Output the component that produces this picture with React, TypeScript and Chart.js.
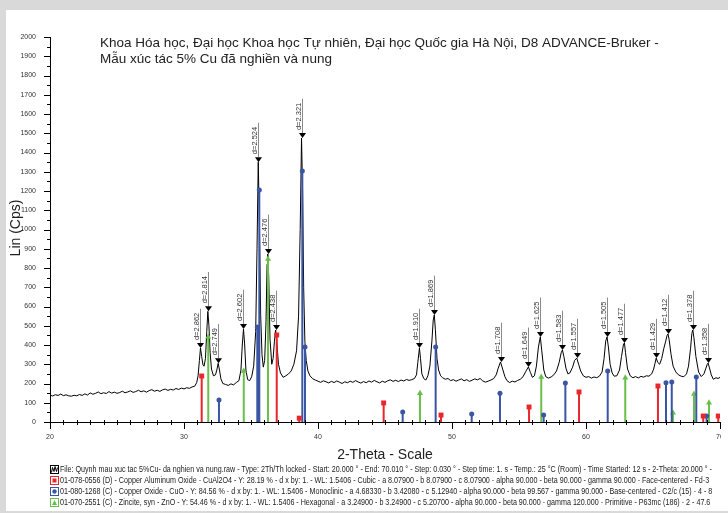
import React, { useEffect, useRef } from 'react';
import { Chart, registerables } from 'chart.js';

Chart.register(...registerables);

const FONT = '"Liberation Sans", Arial, Helvetica, sans-serif';

const titleLines = [
  'Khoa Hóa học, Đại học Khoa học Tự nhiên, Đại học Quốc gia Hà Nội, D8 ADVANCE-Bruker -',
  'Mẫu xúc tác 5% Cu đã nghiền và nung',
];
const yAxisTitle = 'Lin (Cps)';
const xAxisTitle = '2-Theta - Scale';

// Measured XRD pattern (2-theta, counts)
const traceTheta = [
  20.0, 20.2, 20.4, 20.6, 20.8, 21.0, 21.2, 21.4, 21.6, 21.8, 22.0, 22.2, 22.4, 22.6, 22.8,
  23.0, 23.2, 23.4, 23.6, 23.8, 24.0, 24.2, 24.4, 24.6, 24.8, 25.0, 25.2, 25.4, 25.6, 25.8,
  26.0, 26.2, 26.4, 26.6, 26.8, 27.0, 27.2, 27.4, 27.6, 27.8, 28.0, 28.2, 28.4, 28.6, 28.8,
  29.0, 29.2, 29.4, 29.6, 29.8, 30.0, 30.2, 30.4, 30.6, 30.8, 30.95, 31.05, 31.15, 31.23,
  31.32, 31.42, 31.5, 31.6, 31.7, 31.78, 31.86, 31.95, 32.05, 32.2, 32.35, 32.45, 32.55,
  32.65, 32.75, 32.9, 33.1, 33.3, 33.5, 33.7, 33.9, 34.1, 34.25, 34.35, 34.44, 34.52, 34.62,
  34.75, 34.9, 35.05, 35.2, 35.35, 35.45, 35.54, 35.62, 35.72, 35.82, 35.92, 36.02, 36.12,
  36.2, 36.25, 36.32, 36.42, 36.55, 36.65, 36.75, 36.84, 36.92, 37.05, 37.2, 37.4, 37.6,
  37.8, 38.0, 38.2, 38.4, 38.55, 38.67, 38.77, 38.85, 38.93, 39.02, 39.12, 39.25, 39.4,
  39.6, 39.8, 40.0, 40.2, 40.4, 40.6, 40.8, 41.0, 41.2, 41.4, 41.6, 41.8, 42.0, 42.2, 42.4,
  42.6, 42.8, 43.0, 43.2, 43.4, 43.6, 43.8, 44.0, 44.2, 44.4, 44.6, 44.8, 45.0, 45.2, 45.4,
  45.6, 45.8, 46.0, 46.2, 46.4, 46.6, 46.8, 47.0, 47.2, 47.35, 47.45, 47.57, 47.65, 47.75,
  47.9, 48.05, 48.2, 48.35, 48.5, 48.6, 48.68, 48.76, 48.88, 49.0, 49.15, 49.3, 49.5, 49.7,
  49.9, 50.1, 50.3, 50.5, 50.7, 50.9, 51.1, 51.3, 51.5, 51.7, 51.9, 52.1, 52.3, 52.5, 52.7,
  52.9, 53.1, 53.3, 53.45, 53.62, 53.78, 53.95, 54.1, 54.3, 54.5, 54.7, 54.9, 55.1, 55.3,
  55.5, 55.7, 55.85, 56.0, 56.15, 56.3, 56.45, 56.59, 56.7, 56.85, 57.0, 57.2, 57.4, 57.6,
  57.8, 58.0, 58.15, 58.24, 58.35, 58.5, 58.65, 58.8, 59.0, 59.15, 59.31, 59.45, 59.6, 59.8,
  60.0, 60.2, 60.4, 60.6, 60.8, 61.0, 61.2, 61.35, 61.47, 61.57, 61.67, 61.8, 61.95, 62.1,
  62.3, 62.5, 62.65, 62.8, 62.87, 62.95, 63.1, 63.3, 63.5, 63.7, 63.9, 64.1, 64.3, 64.5,
  64.7, 64.9, 65.05, 65.15, 65.24, 65.35, 65.5, 65.65, 65.8, 65.95, 66.05, 66.12, 66.2,
  66.35, 66.5, 66.7, 66.9, 67.1, 67.3, 67.5, 67.65, 67.8, 67.9, 67.97, 68.05, 68.2, 68.4,
  68.6, 68.8, 68.95, 69.05, 69.11, 69.2, 69.35, 69.5, 69.7, 69.85, 70.0,
];
const traceCounts = [
  140, 135, 142, 138, 145, 137, 141, 136, 134, 139, 136, 143, 138, 146, 140,
  151, 144, 149, 156, 147, 152, 148, 158, 150, 155, 149, 153, 160, 152, 156,
  162, 154, 158, 165, 157, 162, 155, 163, 168, 160, 165, 159, 167, 171, 164,
  170, 166, 174, 169, 176, 172, 178, 175, 182, 186, 205, 240, 320, 384,
  340, 295, 290, 330, 470, 575, 500, 360, 275, 240, 245, 270, 305,
  270, 225, 200, 195, 190, 198, 193, 205, 215, 270, 400, 483, 410, 270,
  220, 215, 235, 290, 470, 900, 1350, 1080, 560, 350, 285, 320, 520,
  820, 873, 760, 430, 300, 330, 420, 478, 420, 300, 255, 232, 240,
  250, 265, 300, 370, 550, 1000, 1475, 1200, 700, 420, 320, 265, 240,
  225, 218, 212, 206, 214, 209, 203, 211, 205, 213, 207, 200, 209, 204, 212,
  206, 215, 208, 202, 210, 204, 213, 207, 216, 209, 203, 212, 206, 214, 219,
  211, 217, 210, 218, 213, 221, 216, 220, 226, 245, 310, 384, 330, 250,
  225, 218, 240, 290, 420, 530, 556, 480, 330, 270, 240, 230, 222, 226,
  215, 220, 212, 218, 224, 214, 220, 211, 217, 224, 219, 226, 213, 207, 212,
  218, 225, 245, 280, 312, 275, 235, 215, 205, 212, 208, 216, 222, 235,
  262, 286, 258, 232, 240, 290, 390, 442, 370, 270, 235, 228, 234, 245,
  265, 310, 360, 374, 340, 280, 250, 255, 285, 320, 332, 300, 265, 240,
  232, 236, 228, 234, 230, 238, 260, 330, 420, 442, 390, 300, 255, 238,
  240, 270, 340, 405, 410, 360, 275, 240, 230, 236, 229, 237, 233, 240,
  238, 250, 275, 305, 332, 310, 300, 330, 380, 420, 450, 457, 430,
  350, 290, 260, 245, 238, 235, 250, 290, 380, 460, 478, 440, 340, 260,
  236, 250, 280, 300, 306, 285, 245, 222, 230, 226, 232,
];

// Reference patterns (stick positions and heights)
const cuAl2O4Theta = [31.32, 36.92, 38.6, 44.9, 49.18, 55.75, 59.48, 65.37, 68.75, 69.87];
const cuAl2O4Counts = [239, 452, 20, 99, 36, 78, 156, 187, 31, 31];

const cuoTheta = [32.61, 35.47, 35.62, 38.83, 39.03, 46.32, 48.78, 51.47, 53.58, 56.84, 58.46, 61.62, 65.97, 66.4, 68.23, 69.0];
const cuoCounts = [114, 494, 1205, 1304, 390, 52, 390, 42, 150, 36, 203, 265, 204, 208, 234, 31];

const znoTheta = [31.81, 34.46, 36.27, 47.61, 56.66, 62.93, 66.49, 68.06, 69.18];
const znoCounts = [442, 265, 847, 150, 234, 230, 48, 145, 100];

// Peak markers
const peakTheta = [31.23, 31.78, 32.55, 34.44, 35.54, 36.25, 36.84, 38.77, 47.57, 48.68, 53.62, 55.7, 56.59, 58.24, 59.31, 61.57, 62.87, 65.24, 66.12, 67.97, 69.11];
const peakCounts = [384, 575, 305, 483, 1350, 873, 478, 1475, 384, 556, 312, 286, 442, 374, 332, 442, 410, 332, 457, 478, 306];
const peakLabels = ['d=2.862', 'd=2.814', 'd=2.749', 'd=2.602', 'd=2.524', 'd=2.476', 'd=2.438', 'd=2.321', 'd=1.910', 'd=1.869', 'd=1.708', 'd=1.649', 'd=1.625', 'd=1.583', 'd=1.557', 'd=1.505', 'd=1.477', 'd=1.429', 'd=1.412', 'd=1.378', 'd=1.358'];

const legendLines = [
  'File: Quynh mau xuc tac 5%Cu- da nghien va nung.raw - Type: 2Th/Th locked - Start: 20.000 ° - End: 70.010 ° - Step: 0.030 ° - Step time: 1. s - Temp.: 25 °C (Room) - Time Started: 12 s - 2-Theta: 20.000 ° -',
  '01-078-0556 (D) - Copper Aluminum Oxide - CuAl2O4 - Y: 28.19 % - d x by: 1. - WL: 1.5406 - Cubic - a 8.07900 - b 8.07900 - c 8.07900 - alpha 90.000 - beta 90.000 - gamma 90.000 - Face-centered - Fd-3',
  '01-080-1268 (C) - Copper Oxide - CuO - Y: 84.56 % - d x by: 1. - WL: 1.5406 - Monoclinic - a 4.68330 - b 3.42080 - c 5.12940 - alpha 90.000 - beta 99.567 - gamma 90.000 - Base-centered - C2/c (15) - 4 - 8',
  '01-070-2551 (C) - Zincite, syn - ZnO - Y: 54.46 % - d x by: 1. - WL: 1.5406 - Hexagonal - a 3.24900 - b 3.24900 - c 5.20700 - alpha 90.000 - beta 90.000 - gamma 120.000 - Primitive - P63mc (186) - 2 - 47.6',
];

const RED = '#e8262b';
const BLUE = '#3a55a4';
const GREEN = '#6abf4b';

function stickData(theta: number[], counts: number[]) {
  const out: { x: number; y: number | null }[] = [];
  theta.forEach((t, i) => {
    out.push({ x: t, y: 0 });
    out.push({ x: t, y: counts[i] });
    out.push({ x: t, y: null });
  });
  return out;
}

const decorPlugin = {
  id: 'decor',
  beforeDraw(chart: any) {
    const { ctx, width, height } = chart;
    ctx.save();
    ctx.fillStyle = '#d9d9d9';
    ctx.fillRect(0, 0, width, height);
    ctx.fillStyle = '#ffffff';
    ctx.fillRect(6, 10, width - 6, 501);
    ctx.restore();
  },
  afterDraw(chart: any) {
    const { ctx, chartArea } = chart;
    const xs = chart.scales.x;
    const ys = chart.scales.y;
    const { left, bottom } = chartArea;
    ctx.save();
    // axis ticks
    ctx.strokeStyle = '#000';
    ctx.lineWidth = 1;
    ctx.beginPath();
    for (let v = 0; v <= 2000; v += 50) {
      const y = Math.round(ys.getPixelForValue(v)) + 0.5;
      const len = v % 100 === 0 ? 6 : 3;
      ctx.moveTo(left - len, y);
      ctx.lineTo(left, y);
    }
    for (let t = 20; t <= 70; t += 1) {
      const x = Math.round(xs.getPixelForValue(t)) + 0.5;
      if (t % 10 === 0) {
        ctx.moveTo(x, bottom);
        ctx.lineTo(x, bottom + 7);
      } else {
        ctx.moveTo(x, bottom - 2);
        ctx.lineTo(x, bottom + 3);
      }
    }
    ctx.stroke();

    // peak markers
    ctx.font = `7.5px ${FONT}`;
    peakTheta.forEach((t, i) => {
      const px = Math.round(xs.getPixelForValue(t)) + 0.5;
      const py = ys.getPixelForValue(peakCounts[i]);
      const label = peakLabels[i];
      const w = ctx.measureText(label).width;
      const triH = 5;
      const top = py - triH - 3 - w - 4;
      ctx.strokeStyle = '#8a8a8a';
      ctx.beginPath();
      ctx.moveTo(px, py - triH);
      ctx.lineTo(px, top);
      ctx.stroke();
      ctx.fillStyle = '#000';
      ctx.beginPath();
      ctx.moveTo(px - 3.5, py - triH);
      ctx.lineTo(px + 3.5, py - triH);
      ctx.lineTo(px, py);
      ctx.closePath();
      ctx.fill();
      ctx.save();
      ctx.translate(px - 2, py - triH - 3);
      ctx.rotate(-Math.PI / 2);
      ctx.fillStyle = '#333';
      ctx.textAlign = 'left';
      ctx.textBaseline = 'alphabetic';
      ctx.fillText(label, 0, 0);
      ctx.restore();
    });

    // title
    ctx.fillStyle = '#222';
    ctx.font = `13.5px ${FONT}`;
    ctx.textAlign = 'left';
    ctx.textBaseline = 'middle';
    ctx.fillText(titleLines[0], 100, 43);
    ctx.fillText(titleLines[1], 100, 59);

    // axis titles
    ctx.font = `14px ${FONT}`;
    ctx.textAlign = 'center';
    ctx.fillText(xAxisTitle, 385, 455);
    ctx.save();
    ctx.translate(16, 228);
    ctx.rotate(-Math.PI / 2);
    ctx.fillText(yAxisTitle, 0, 0);
    ctx.restore();

    // legend
    ctx.font = `8.5px ${FONT}`;
    ctx.textAlign = 'left';
    const base = ctx.measureText(legendLines[0]).width;
    const squeeze = 652 / base;
    const rows = [470, 481, 492, 503];
    const colors = ['#000', RED, BLUE, GREEN];
    legendLines.forEach((line, i) => {
      const y = rows[i];
      const bx = 50.5, by = y - 4.5;
      ctx.strokeStyle = colors[i];
      ctx.lineWidth = 1;
      ctx.strokeRect(bx, by, 8, 8);
      ctx.fillStyle = colors[i];
      if (i === 0) {
        ctx.beginPath();
        ctx.moveTo(bx + 1, by + 7);
        ctx.lineTo(bx + 2, by + 2);
        ctx.lineTo(bx + 3.5, by + 6);
        ctx.lineTo(bx + 4.5, by + 1);
        ctx.lineTo(bx + 6, by + 6);
        ctx.lineTo(bx + 7, by + 2);
        ctx.stroke();
      } else if (i === 1) {
        ctx.fillRect(bx + 2, by + 2, 4, 4);
      } else if (i === 2) {
        ctx.beginPath();
        ctx.arc(bx + 4, by + 4, 2.2, 0, Math.PI * 2);
        ctx.fill();
      } else {
        ctx.beginPath();
        ctx.moveTo(bx + 4, by + 1.5);
        ctx.lineTo(bx + 6.5, by + 6.5);
        ctx.lineTo(bx + 1.5, by + 6.5);
        ctx.closePath();
        ctx.fill();
      }
      ctx.fillStyle = '#222';
      ctx.textBaseline = 'middle';
      const w = ctx.measureText(line).width;
      ctx.fillText(line, 60, y, w * squeeze);
    });

    // the source image is cropped just right of 70
    ctx.fillStyle = '#fff';
    ctx.fillRect(721, 425, 7, 20);
    ctx.restore();
  },
};

export default function App() {
  const ref = useRef<HTMLCanvasElement | null>(null);
  useEffect(() => {
    document.body.style.margin = '0';
    const canvas = ref.current!;
    const markerRadius = (r: number) => (ctx: any) => (ctx.dataIndex % 3 === 1 ? r : 0);
    const chart = new Chart(canvas, {
      type: 'scatter',
      data: {
        datasets: [
          {
            type: 'line',
            label: 'CuAl2O4',
            data: stickData(cuAl2O4Theta, cuAl2O4Counts),
            borderColor: RED,
            backgroundColor: RED,
            borderWidth: 2,
            pointStyle: 'rect',
            pointRadius: markerRadius(3.5),
            pointBorderWidth: 0,
            spanGaps: false,
            order: 1,
          } as any,
          {
            type: 'line',
            label: 'CuO',
            data: stickData(cuoTheta, cuoCounts),
            borderColor: BLUE,
            backgroundColor: BLUE,
            borderWidth: 2,
            pointStyle: 'circle',
            pointRadius: markerRadius(2.5),
            pointBorderWidth: 0,
            spanGaps: false,
            order: 1,
          } as any,
          {
            type: 'line',
            label: 'ZnO',
            data: stickData(znoTheta, znoCounts),
            borderColor: GREEN,
            backgroundColor: GREEN,
            borderWidth: 2,
            pointStyle: 'triangle',
            pointRadius: markerRadius(3.5),
            pointBorderWidth: 0,
            spanGaps: false,
            order: 1,
          } as any,
          {
            type: 'line',
            label: 'pattern',
            data: traceTheta.map((t, i) => ({ x: t, y: traceCounts[i] })),
            borderColor: '#000',
            borderWidth: 1,
            pointRadius: 0,
            tension: 0,
            order: 5,
          } as any,
        ],
      },
      options: {
        animation: false,
        responsive: false,
        devicePixelRatio: 1,
        layout: { padding: { left: 0, top: 37, right: 8, bottom: 0 } },
        plugins: { legend: { display: false }, tooltip: { enabled: false }, title: { display: false } },
        scales: {
          x: {
            type: 'linear',
            min: 20,
            max: 70,
            afterFit: (s: any) => { s.height = 91; s.paddingLeft = 0; s.paddingRight = 0; },
            ticks: { stepSize: 10, font: { size: 7, family: FONT }, color: '#333', padding: 11, maxRotation: 0, autoSkip: false, callback: (v: any) => String(v) },
            grid: { display: false, drawTicks: false },
            border: { display: true, color: '#000', width: 1 },
          },
          y: {
            type: 'linear',
            min: 0,
            max: 2000,
            afterFit: (s: any) => { s.width = 50; s.paddingTop = 0; s.paddingBottom = 0; },
            ticks: { stepSize: 100, font: { size: 7, family: FONT }, color: '#333', padding: 14, autoSkip: false, callback: (v: any) => String(v) },
            grid: { display: false, drawTicks: false },
            border: { display: true, color: '#000', width: 1 },
          },
        },
      } as any,
      plugins: [decorPlugin],
    });
    return () => chart.destroy();
  }, []);
  return <canvas ref={ref} width={728} height={513} style={{ display: 'block' }} />;
}
